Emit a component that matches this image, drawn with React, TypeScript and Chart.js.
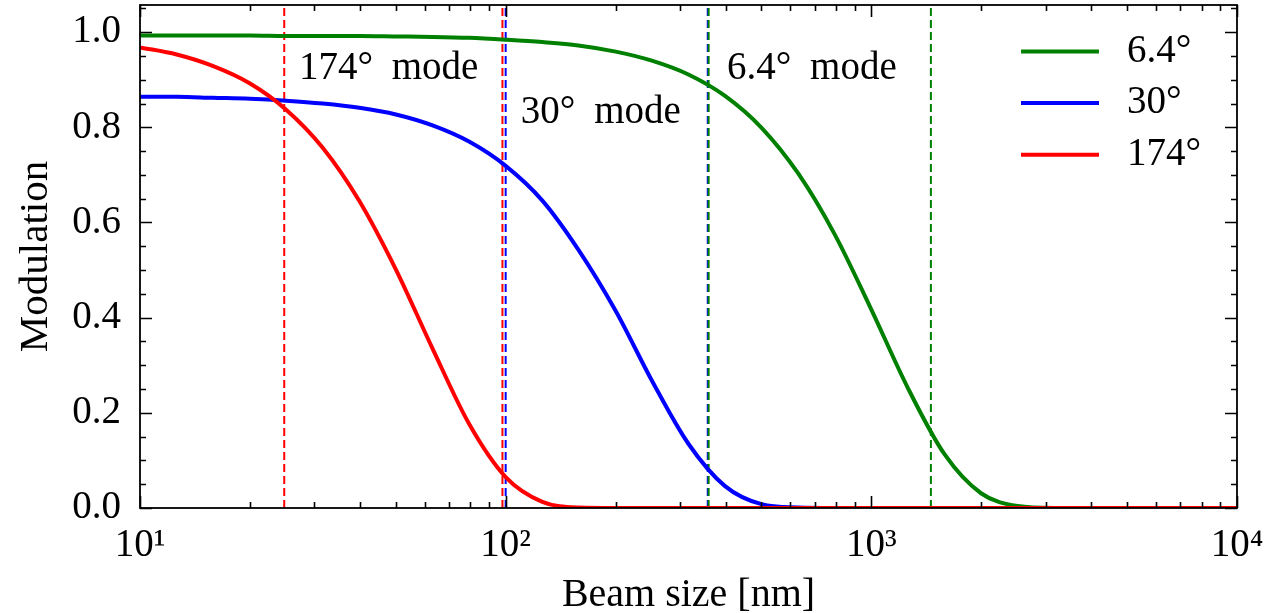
import React, { useEffect, useRef } from 'react';
import { Chart, registerables } from 'chart.js';

Chart.register(...registerables);

// ---- data ----
const beamSize = [10, 12.6, 15.8, 20, 25.1, 31.6, 39.8, 50.1, 63.1, 79.4, 100, 126, 158, 200, 251, 316, 398, 501, 631, 794, 1000, 1259, 1585, 1995, 2512, 3162, 3981, 5012, 6310, 7943, 10000];
const modulation64 = [0.993, 0.993, 0.993, 0.993, 0.992, 0.992, 0.992, 0.991, 0.990, 0.988, 0.984, 0.979, 0.972, 0.959, 0.940, 0.911, 0.866, 0.799, 0.703, 0.575, 0.417, 0.252, 0.113, 0.031, 0.004, 0, 0, 0, 0, 0, 0];
const modulation30 = [0.864, 0.864, 0.862, 0.860, 0.856, 0.850, 0.841, 0.827, 0.804, 0.770, 0.719, 0.646, 0.543, 0.414, 0.268, 0.135, 0.046, 0.008, 0.001, 0, 0, 0, 0, 0, 0, 0, 0, 0, 0, 0, 0];
const modulation174 = [0.968, 0.953, 0.929, 0.892, 0.837, 0.757, 0.645, 0.501, 0.335, 0.177, 0.065, 0.013, 0.001, 0, 0, 0, 0, 0, 0, 0, 0, 0, 0, 0, 0, 0, 0, 0, 0, 0, 0];
const seriesLabels = ['6.4°', '30°', '174°'];

const bounds174 = [24.8, 98];
const bounds30 = [100, 357];
const bounds64 = [359, 1455];

const modeLabels = ['174° mode', '30° mode', '6.4° mode'];
const modeLabelX = [27.2, 110, 403];
const modeLabelY = [0.924, 0.83, 0.924];

const xMajorTicks = [10, 100, 1000, 10000];
const yMajorTicks = [0, 0.2, 0.4, 0.6, 0.8, 1.0];
const X_MIN = 10;
const X_MAX = 10000;
const Y_MAX = 1.057;

const GREEN = '#008000';
const BLUE = '#0000ff';
const RED = '#ff0000';
const FONT = "'Liberation Serif', 'DejaVu Serif', serif";

const SUP: Record<string, string> = { '1': '¹', '2': '²', '3': '³', '4': '⁴' };

const framePlugin = {
  id: 'frameTicks',
  afterDraw(chart: any) {
    const { ctx, chartArea } = chart;
    const { left, right, top, bottom } = chartArea;
    const xs = chart.scales.x;
    const ys = chart.scales.y;
    ctx.save();
    ctx.strokeStyle = '#000';
    ctx.lineWidth = 1.6;
    ctx.beginPath();
    for (let d = 1; d <= 4; d++) {
      for (let m = 1; m <= 9; m++) {
        const v = m * Math.pow(10, d);
        if (v < X_MIN || v > X_MAX) continue;
        const px = Math.round(xs.getPixelForValue(v)) + 0.5;
        const len = m === 1 ? 12 : 6;
        ctx.moveTo(px, bottom);
        ctx.lineTo(px, bottom - len);
        ctx.moveTo(px, top);
        ctx.lineTo(px, top + len);
      }
    }
    for (let i = 0; i * 0.05 <= Y_MAX + 1e-9; i++) {
      const v = i * 0.05;
      const py = Math.round(ys.getPixelForValue(v)) + 0.5;
      const len = i % 4 === 0 ? 12 : 6;
      ctx.moveTo(left, py);
      ctx.lineTo(left + len, py);
      ctx.moveTo(right, py);
      ctx.lineTo(right - len, py);
    }
    ctx.stroke();
    ctx.lineWidth = 1.8;
    ctx.strokeRect(left, top, right - left, bottom - top);

    ctx.fillStyle = '#000';
    ctx.font = `39px ${FONT}`;
    ctx.textBaseline = 'middle';
    ctx.textAlign = 'left';
    try { (ctx as any).wordSpacing = '9px'; } catch (e) { /* ignore */ }
    modeLabels.forEach((t, i) => {
      ctx.fillText(t, xs.getPixelForValue(modeLabelX[i]), ys.getPixelForValue(modeLabelY[i]));
    });
    try { (ctx as any).wordSpacing = '0px'; } catch (e) { /* ignore */ }

    const curves = chart.data.datasets.filter((d: any) => d.isCurve);
    curves.forEach((d: any, i: number) => {
      const y = top + 46.5 + i * 51.6;
      ctx.strokeStyle = d.borderColor;
      ctx.lineWidth = 4;
      ctx.beginPath();
      ctx.moveTo(right - 216, y);
      ctx.lineTo(right - 138, y);
      ctx.stroke();
      ctx.fillStyle = '#000';
      ctx.fillText(d.label, right - 110, y);
    });
    ctx.restore();
  },
};

function curve(label: string, values: number[], color: string, order: number) {
  return {
    label,
    isCurve: true,
    data: beamSize.map((x, i) => ({ x, y: values[i] })),
    borderColor: color,
    backgroundColor: color,
    borderWidth: 4,
    pointRadius: 0,
    cubicInterpolationMode: 'monotone',
    order,
  };
}

function vline(x: number, color: string, order: number) {
  return {
    label: '',
    isCurve: false,
    data: [{ x, y: 0 }, { x, y: Y_MAX }],
    borderColor: color,
    borderWidth: 2,
    borderDash: [8, 4],
    pointRadius: 0,
    order,
  };
}

export default function App() {
  const ref = useRef<HTMLCanvasElement | null>(null);
  useEffect(() => {
    if (!ref.current) return;
    Chart.defaults.font.family = FONT;
    Chart.defaults.color = '#000';
    const chart = new Chart(ref.current, {
      type: 'line',
      data: {
        datasets: [
          curve(seriesLabels[0], modulation64, GREEN, 3),
          curve(seriesLabels[1], modulation30, BLUE, 2),
          curve(seriesLabels[2], modulation174, RED, 1),
          vline(bounds174[0], RED, 10),
          vline(bounds174[1], RED, 10),
          vline(bounds30[0], BLUE, 10),
          vline(bounds30[1], BLUE, 11),
          vline(bounds64[0], GREEN, 10),
          vline(bounds64[1], GREEN, 10),
        ] as any,
      },
      options: {
        responsive: false,
        animation: false,
        layout: { padding: { left: 0, top: 5, right: 30, bottom: 0 } },
        plugins: { legend: { display: false }, tooltip: { enabled: false } },
        scales: {
          x: {
            type: 'logarithmic',
            min: X_MIN,
            max: X_MAX,
            grid: { display: false },
            border: { display: false },
            afterFit: (s: any) => {
              s.height = 105;
              s.paddingLeft = 0;
              s.paddingRight = 0;
            },
            ticks: {
              autoSkip: false,
              maxRotation: 0,
              padding: 6,
              font: { size: 39 },
              color: '#000',
              callback: (v: any) => {
                const n = Number(v);
                const e = Math.round(Math.log10(n));
                if (xMajorTicks.some((t) => Math.abs(t - n) < 1e-6)) return '10' + SUP[String(e)];
                return '';
              },
            },
            title: { display: true, text: 'Beam size [nm]', font: { size: 40, lineHeight: 0.9 }, padding: { top: 0, bottom: 0 }, color: '#000' },
          },
          y: {
            min: 0,
            max: Y_MAX,
            grid: { display: false },
            border: { display: false },
            afterFit: (s: any) => {
              s.width = 140;
              s.paddingTop = 0;
              s.paddingBottom = 0;
            },
            ticks: {
              stepSize: 0.2,
              includeBounds: false,
              padding: 11,
              font: { size: 39 },
              color: '#000',
              callback: (v: any) => {
                const n = Number(v);
                return yMajorTicks.some((t) => Math.abs(t - n) < 1e-6) ? n.toFixed(1) : '';
              },
            },
            title: { display: true, text: 'Modulation', font: { size: 41 }, padding: { top: 12, bottom: 0 }, color: '#000' },
          },
        },
      } as any,
      plugins: [framePlugin],
    });
    return () => chart.destroy();
  }, []);
  return (
    <canvas
      ref={ref}
      width={1267}
      height={613}
      style={{ position: 'fixed', left: 0, top: 0, display: 'block', background: '#fff' }}
    />
  );
}
